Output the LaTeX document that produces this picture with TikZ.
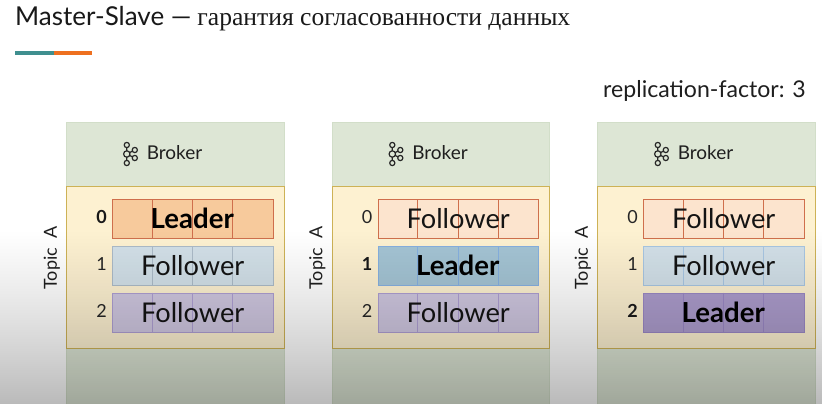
\documentclass[tikz,border=0pt]{standalone}
\usepackage{fontspec}
\setmainfont{Lato}
\newfontfamily\ruserif[Script=Cyrillic]{Liberation Serif}
\definecolor{brokerfill}{HTML}{DDE6D5}
\definecolor{brokerline}{HTML}{D2DEC9}
\definecolor{topicfill}{HTML}{FDF1D1}
\definecolor{topicline}{HTML}{CDB256}
\definecolor{orangeL}{HTML}{F7CA9C}
\definecolor{orangeF}{HTML}{FCE4CE}
\definecolor{orangeB}{HTML}{CF6F4C}
\definecolor{blueL}{HTML}{A4C4D4}
\definecolor{blueF}{HTML}{D2E0E8}
\definecolor{blueB}{HTML}{A8C6E2}
\definecolor{blueBL}{HTML}{86B0E0}
\definecolor{purpleL}{HTML}{AC9CCC}
\definecolor{purpleF}{HTML}{CFC7E0}
\definecolor{purpleB}{HTML}{AE9FD2}
\definecolor{purpleBL}{HTML}{9A88C4}
\definecolor{teal}{HTML}{3F8F8F}
\definecolor{orangebar}{HTML}{EE7020}
\tikzset{
  brokerbox/.style={draw=brokerline,fill=brokerfill,line width=.8pt},
  topicbox/.style={draw=topicline,fill=topicfill,line width=.9pt},
  parttext/.style={font=\fontsize{27.2}{27}\selectfont,text=black!92,inner sep=0pt},
  leadertext/.style={font=\fontsize{27.6}{27}\selectfont\bfseries,text=black,inner sep=0pt,xshift=-0.5pt,yshift=0.5pt},
  numtext/.style={font=\fontsize{18}{18}\selectfont,text=black!85,inner sep=0pt},
  numbold/.style={font=\fontsize{18}{18}\selectfont\bfseries,text=black!90,inner sep=0pt},
  plain/.style={inner sep=0pt,text=black!88},
  kafka/.style={draw=black!85,line width=1.2pt},
}
% #1 name, #2 left x, #3 top y, #4 fill, #5 border, #6 label, #7 label style
\newcommand{\partrow}[7]{%
  \node[draw=#5,fill=#4,line width=.9pt,minimum width=160.5pt,minimum height=39pt,inner sep=0pt,anchor=north west] (#1) at (#2,-#3) {};
  \draw[#5,line width=.9pt] ($(#1.north west)+(40pt,0)$) -- ($(#1.south west)+(40pt,0)$)
     ($(#1.north west)+(80.5pt,0)$) -- ($(#1.south west)+(80.5pt,0)$)
     ($(#1.north west)+(120.5pt,0)$) -- ($(#1.south west)+(120.5pt,0)$);
  \node[#7] at (#1.center) {#6};
}
% #1 prefix, #2 left x
\newcommand{\brokercol}[2]{%
  \node[brokerbox,minimum width=217.5pt,minimum height=290pt,inner sep=0pt,anchor=north west] (#1b) at (#2,-122) {};
  \node[topicbox,minimum width=217.5pt,minimum height=162pt,inner sep=0pt,anchor=north west] (#1t) at (#2,-186) {};
  \begin{scope}[shift={(#2,0)}]
    \draw[kafka] (60.5,-145) -- (60.5,-163) (60.5,-154) -- (68.5,-150) (60.5,-154) -- (68.5,-158);
    \foreach \cx/\cy/\r in {60.5/-145/2.6,60.5/-163/2.6,60.5/-154/3.2,68.5/-150/2.6,68.5/-158/2.6}
      \draw[kafka,fill=brokerfill] (\cx,\cy) circle (\r);
  \end{scope}
  \node[plain,font=\fontsize{19}{19}\selectfont,anchor=west] (#1n) at ($(#2,-152.5)+(80.3,0)$) {Broker};
  \node[plain,font=\fontsize{18}{18}\selectfont,rotate=90] (#1a) at ($(#2,-258)+(-14.5,0)$) {Topic\ \ A};
}
\usetikzlibrary{calc}
\begin{document}
\begin{tikzpicture}[x=1pt,y=1pt]
\useasboundingbox (0,0) rectangle (822,-404);
\fill[white] (0,0) rectangle (822,-404);

\node[inner sep=0pt,anchor=base west,text=black!90] (title) at (15,-26) {\fontsize{26}{26}\selectfont Master-Slave ---\kern 6pt{\ruserif\fontsize{25.6}{26}\selectfont гарантия согласованности данных}};
\fill[teal] (15,-51.5) rectangle (54,-55.5);
\fill[orangebar] (54,-51.5) rectangle (92,-55.5);
\node[plain,font=\fontsize{23.1}{24}\selectfont,anchor=base east] (rf) at (806,-97) {replication-factor: 3};

\brokercol{a}{66.3}
\brokercol{b}{331.8}
\brokercol{c}{597.3}

\partrow{a0}{112}{199}{orangeL}{orangeB}{Leader}{leadertext}
\partrow{a1}{112}{246}{blueF}{blueB!60!gray!80}{Follower}{parttext}
\partrow{a2}{112}{292.5}{purpleF}{purpleB}{Follower}{parttext}
\partrow{b0}{377.5}{199}{orangeF}{orangeB}{Follower}{parttext}
\partrow{b1}{377.5}{246}{blueL}{blueBL}{Leader}{leadertext}
\partrow{b2}{377.5}{292.5}{purpleF}{purpleB}{Follower}{parttext}
\partrow{c0}{643}{199}{orangeF}{orangeB}{Follower}{parttext}
\partrow{c1}{643}{246}{blueF}{blueB}{Follower}{parttext}
\partrow{c2}{643}{292.5}{purpleL}{purpleBL}{Leader}{leadertext}

\node[numbold] at (101.5,-217) {0};
\node[numtext] at (101.5,-264) {1};
\node[numtext] at (101.5,-311) {2};
\node[numtext] at (367,-217) {0};
\node[numbold] at (367,-264) {1};
\node[numtext] at (367,-311) {2};
\node[numtext] at (632.5,-217) {0};
\node[numtext] at (632.5,-264) {1};
\node[numbold] at (632.5,-311) {2};

% video shadow: darkens towards the bottom edge
\foreach \i in {0,...,173}
  \fill[black,fill opacity={0.27*(\i/173)*(\i/173)*0.3+0.27*(\i/173)*0.7}] (0,-230-\i) rectangle (822,-231-\i);
\end{tikzpicture}
\end{document}
